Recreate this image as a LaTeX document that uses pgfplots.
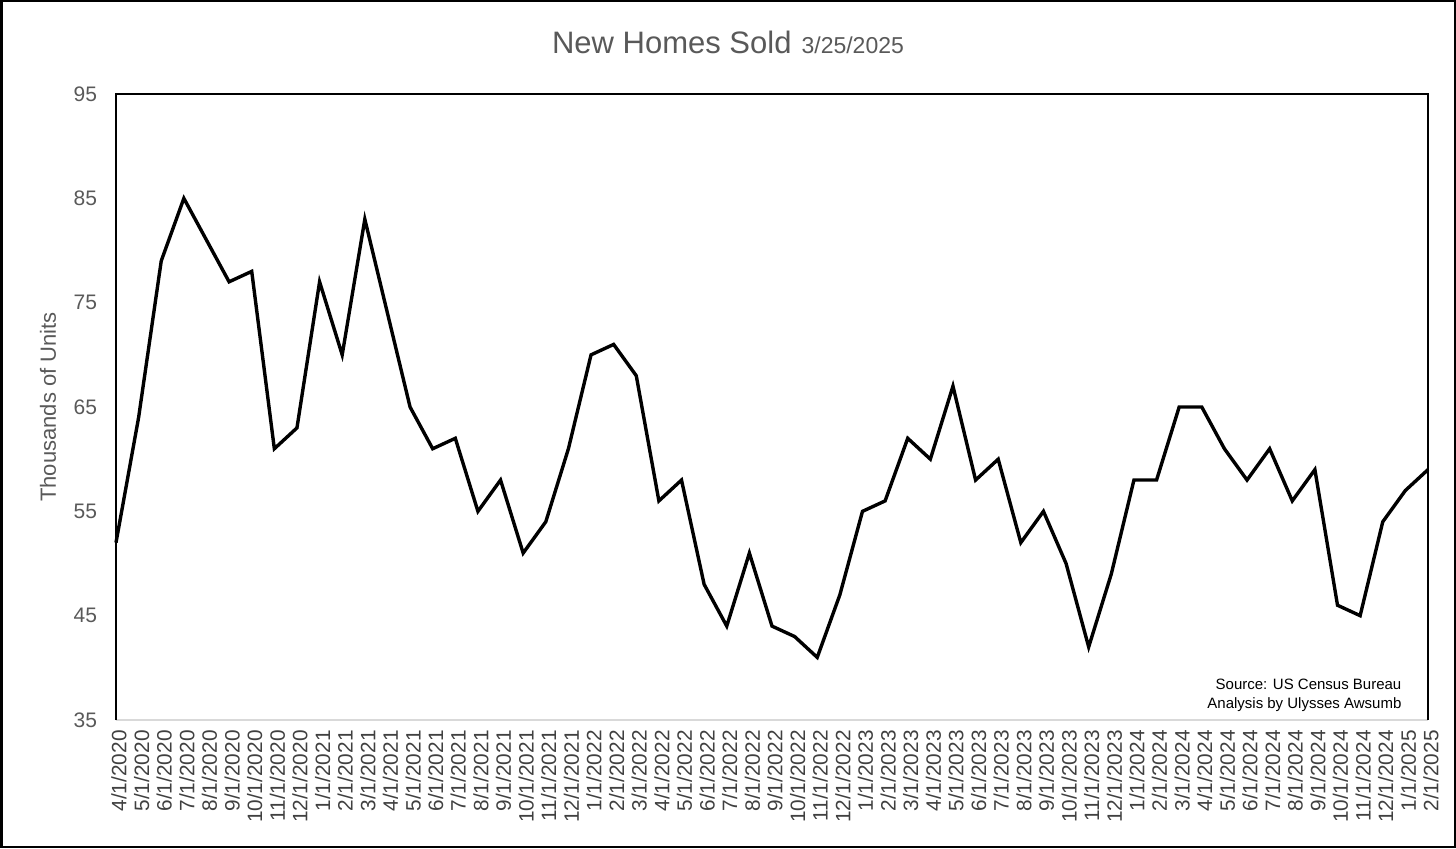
\documentclass[border=0pt]{standalone}
\usepackage{pgfplots}
\pgfplotsset{compat=1.18}
\usepackage{pgfplotstable}
\usepackage{fontspec}
\setmainfont{Liberation Sans}
\definecolor{txtgray}{HTML}{595959}
\definecolor{lblgray}{HTML}{404040}
\definecolor{axgray}{HTML}{D9D9D9}
\pgfplotstableread{
idx val
0 52
1 64
2 79
3 85
4 81
5 77
6 78
7 61
8 63
9 77
10 70
11 83
12 74
13 65
14 61
15 62
16 55
17 58
18 51
19 54
20 61
21 70
22 71
23 68
24 56
25 58
26 48
27 44
28 51
29 44
30 43
31 41
32 47
33 55
34 56
35 62
36 60
37 67
38 58
39 60
40 52
41 55
42 50
43 42
44 49
45 58
46 58
47 65
48 65
49 61
50 58
51 61
52 56
53 59
54 46
55 45
56 54
57 57
58 59
}\sales
\begin{document}
\begin{tikzpicture}
\begin{axis}[
  at={(58pt,64pt)}, anchor=south west,
  scale only axis, width=656pt, height=313pt,
  xmin=0, xmax=58, ymin=35, ymax=95,
  xtick={0,...,58},
  xticklabels={4/1/2020,5/1/2020,6/1/2020,7/1/2020,8/1/2020,9/1/2020,10/1/2020,11/1/2020,12/1/2020,
    1/1/2021,2/1/2021,3/1/2021,4/1/2021,5/1/2021,6/1/2021,7/1/2021,8/1/2021,9/1/2021,10/1/2021,11/1/2021,12/1/2021,
    1/1/2022,2/1/2022,3/1/2022,4/1/2022,5/1/2022,6/1/2022,7/1/2022,8/1/2022,9/1/2022,10/1/2022,11/1/2022,12/1/2022,
    1/1/2023,2/1/2023,3/1/2023,4/1/2023,5/1/2023,6/1/2023,7/1/2023,8/1/2023,9/1/2023,10/1/2023,11/1/2023,12/1/2023,
    1/1/2024,2/1/2024,3/1/2024,4/1/2024,5/1/2024,6/1/2024,7/1/2024,8/1/2024,9/1/2024,10/1/2024,11/1/2024,12/1/2024,
    1/1/2025,2/1/2025},
  ytick={35,45,55,65,75,85,95},
  major tick length=0pt,
  axis line style={draw=none},
  /pgf/number format/assume math mode=true,
  xticklabel style={rotate=90, anchor=east, font=\fontsize{10.4pt}{12pt}\selectfont, text=lblgray, inner sep=1pt, xshift=-4pt, yshift=-1.5pt},
  yticklabel style={font=\fontsize{10.5pt}{12pt}\selectfont, text=txtgray, xshift=-6pt},
  ylabel={Thousands of Units},
  ylabel style={at={(axis description cs:-0.0518,0.5)}, anchor=center, font=\fontsize{11pt}{13pt}\selectfont, text=txtgray},
  clip=false,
]
\draw[axgray, line width=0.75pt] (rel axis cs:0,0) -- (rel axis cs:1,0);
\draw[black, line width=1pt] (rel axis cs:0,0) -- (rel axis cs:0,1) -- (rel axis cs:1,1) -- (rel axis cs:1,0);
\addplot[black, line width=1.7pt, no markers, line join=miter] table[x=idx, y=val] {\sales};
\node[anchor=base east, inner sep=0pt, font=\fontsize{7.5pt}{9pt}\selectfont] at (rel axis cs:0.980,0.048) {Source: US Census Bureau};
\node[anchor=base east, inner sep=0pt, font=\fontsize{7.5pt}{9pt}\selectfont] at (rel axis cs:0.980,0.0176) {Analysis by Ulysses Awsumb};
\end{axis}
\node[anchor=base, text=txtgray, inner sep=0pt] at (364pt,397pt) {{\fontsize{15.5pt}{18pt}\selectfont New Homes Sold}\hspace{5pt}{\fontsize{11.5pt}{14pt}\selectfont 3/25/2025}};
\draw[black, line width=1.25pt] (0.625pt,0.625pt) rectangle (727.375pt,423.375pt);
\pgfresetboundingbox
\useasboundingbox (0pt,0pt) rectangle (728pt,424pt);
\end{tikzpicture}
\end{document}
